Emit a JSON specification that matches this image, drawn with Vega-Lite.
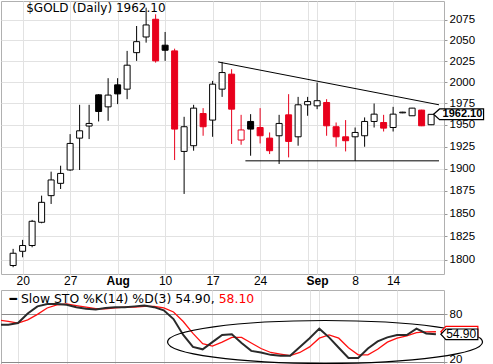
{
  "$schema": "https://vega.github.io/schema/vega-lite/v6.json",
  "padding": 0,
  "autosize": {"type": "pad"},
  "background": "white",
  "spacing": 2,
  "config": {
    "view": {"stroke": "#b0b0b0"},
    "font": "DejaVu Sans"
  },
  "datasets": {
    "ohlc": [
      {"d":"2020-07-17","i":0,"o":1793.8,"h":1811.6,"l":1792.0,"c":1806.9},
      {"d":"2020-07-20","i":1,"o":1809.0,"h":1821.3,"l":1802.6,"c":1815.2},
      {"d":"2020-07-21","i":2,"o":1815.2,"h":1843.0,"l":1813.3,"c":1841.5},
      {"d":"2020-07-22","i":3,"o":1840.4,"h":1869.7,"l":1839.3,"c":1862.3},
      {"d":"2020-07-23","i":4,"o":1869.7,"h":1896.5,"l":1860.5,"c":1887.2},
      {"d":"2020-07-24","i":5,"o":1883.4,"h":1903.2,"l":1877.1,"c":1894.5},
      {"d":"2020-07-27","i":6,"o":1898.4,"h":1939.2,"l":1897.5,"c":1928.5},
      {"d":"2020-07-28","i":7,"o":1934.6,"h":1973.2,"l":1898.4,"c":1943.0},
      {"d":"2020-07-29","i":8,"o":1948.5,"h":1973.2,"l":1933.5,"c":1951.5},
      {"d":"2020-07-30","i":9,"o":1984.9,"h":1985.7,"l":1953.8,"c":1965.4},
      {"d":"2020-07-31","i":10,"o":1970.8,"h":2004.6,"l":1954.6,"c":1984.6},
      {"d":"2020-08-03","i":11,"o":1996.7,"h":2004.6,"l":1974.0,"c":1986.0},
      {"d":"2020-08-04","i":12,"o":1991.6,"h":2037.3,"l":1979.8,"c":2020.1},
      {"d":"2020-08-05","i":13,"o":2035.2,"h":2067.6,"l":2025.3,"c":2048.5},
      {"d":"2020-08-06","i":14,"o":2054.2,"h":2090.2,"l":2047.3,"c":2068.9},
      {"d":"2020-08-07","i":15,"o":2075.9,"h":2082.0,"l":2023.2,"c":2025.3},
      {"d":"2020-08-10","i":16,"o":2044.2,"h":2060.3,"l":2025.3,"c":2038.1},
      {"d":"2020-08-11","i":17,"o":2037.3,"h":2040.0,"l":1909.6,"c":1945.0},
      {"d":"2020-08-12","i":18,"o":1919.4,"h":1959.2,"l":1871.6,"c":1947.7},
      {"d":"2020-08-13","i":19,"o":1925.9,"h":1973.2,"l":1920.2,"c":1969.3},
      {"d":"2020-08-14","i":20,"o":1963.0,"h":1969.3,"l":1937.3,"c":1947.7},
      {"d":"2020-08-17","i":21,"o":1955.4,"h":2001.4,"l":1936.1,"c":1997.5},
      {"d":"2020-08-18","i":22,"o":1991.6,"h":2024.0,"l":1982.5,"c":2011.3},
      {"d":"2020-08-19","i":23,"o":2009.4,"h":2015.3,"l":1927.9,"c":1968.1},
      {"d":"2020-08-20","i":24,"o":1932.4,"h":1961.5,"l":1927.0,"c":1944.0},
      {"d":"2020-08-21","i":25,"o":1953.8,"h":1962.3,"l":1914.5,"c":1945.0},
      {"d":"2020-08-24","i":26,"o":1946.8,"h":1969.3,"l":1928.5,"c":1937.3},
      {"d":"2020-08-25","i":27,"o":1934.6,"h":1941.1,"l":1916.4,"c":1920.2},
      {"d":"2020-08-26","i":28,"o":1937.3,"h":1961.5,"l":1905.1,"c":1951.5},
      {"d":"2020-08-27","i":29,"o":1961.5,"h":1985.7,"l":1912.6,"c":1930.8},
      {"d":"2020-08-28","i":30,"o":1936.1,"h":1982.5,"l":1925.9,"c":1973.2},
      {"d":"2020-08-31","i":31,"o":1973.2,"h":1982.5,"l":1960.4,"c":1977.0},
      {"d":"2020-09-01","i":32,"o":1972.0,"h":1999.4,"l":1968.1,"c":1978.0},
      {"d":"2020-09-02","i":33,"o":1975.9,"h":1979.8,"l":1937.3,"c":1948.8},
      {"d":"2020-09-03","i":34,"o":1947.7,"h":1952.6,"l":1924.7,"c":1936.1},
      {"d":"2020-09-04","i":35,"o":1936.1,"h":1955.4,"l":1919.4,"c":1931.6},
      {"d":"2020-09-08","i":36,"o":1936.1,"h":1946.8,"l":1908.7,"c":1941.1},
      {"d":"2020-09-09","i":37,"o":1937.3,"h":1958.5,"l":1924.7,"c":1953.8},
      {"d":"2020-09-10","i":38,"o":1953.8,"h":1974.7,"l":1946.8,"c":1962.3},
      {"d":"2020-09-11","i":39,"o":1952.6,"h":1961.5,"l":1942.2,"c":1946.1},
      {"d":"2020-09-14","i":40,"o":1946.8,"h":1970.8,"l":1942.2,"c":1962.3},
      {"d":"2020-09-15","i":41,"o":1963.8,"h":1965.0,"l":1963.4,"c":1964.6},
      {"d":"2020-09-16","i":42,"o":1960.4,"h":1969.6,"l":1960.2,"c":1969.3},
      {"d":"2020-09-17","i":43,"o":1967.0,"h":1967.4,"l":1948.4,"c":1948.8},
      {"d":"2020-09-18","i":44,"o":1950.0,"h":1962.4,"l":1949.6,"c":1962.1}
    ],
    "sto": [
      {"i":-1,"k":67,"d":73},{"i":0,"k":67,"d":71},{"i":1,"k":69,"d":69},{"i":2,"k":81,"d":73},
      {"i":3,"k":90,"d":80},{"i":4,"k":93,"d":88},{"i":5,"k":93,"d":92},{"i":6,"k":92,"d":93},
      {"i":7,"k":89,"d":91},{"i":8,"k":87,"d":89},{"i":9,"k":86,"d":87},{"i":10,"k":88,"d":87},
      {"i":11,"k":89,"d":88},{"i":12,"k":89,"d":89},{"i":13,"k":90,"d":89},{"i":14,"k":91,"d":90},
      {"i":15,"k":89,"d":90},{"i":16,"k":85,"d":88},{"i":17,"k":74,"d":83},{"i":18,"k":54,"d":71},
      {"i":19,"k":39,"d":56},{"i":20,"k":36,"d":43},{"i":21,"k":45,"d":40},{"i":22,"k":54,"d":45},
      {"i":23,"k":55,"d":51},{"i":24,"k":44,"d":51},{"i":25,"k":34,"d":44},{"i":26,"k":32,"d":37},
      {"i":27,"k":29,"d":32},{"i":28,"k":28,"d":30},{"i":29,"k":28,"d":28},{"i":30,"k":39,"d":32},
      {"i":31,"k":50,"d":39},{"i":32,"k":62,"d":50},{"i":33,"k":51,"d":54},{"i":34,"k":38,"d":50},
      {"i":35,"k":25,"d":38},{"i":36,"k":25,"d":29},{"i":37,"k":37,"d":29},{"i":38,"k":46,"d":36},
      {"i":39,"k":51,"d":45},{"i":40,"k":54,"d":50},{"i":41,"k":54,"d":53},{"i":42,"k":62,"d":57},
      {"i":43,"k":56,"d":58},{"i":44,"k":54.9,"d":58.1}
    ],
    "trend": [
      {"t":"resistance","i":21.57,"v":2024.0},{"t":"resistance","i":44.83,"v":1973.2},
      {"t":"support","i":24.45,"v":1908.7},{"t":"support","i":44.83,"v":1908.7}
    ]
  },
  "vconcat": [
    {
      "width": 443,
      "height": 273,
      "layer": [
        {
          "data": {"name": "ohlc"},
          "transform": [{"window": [{"op": "lag", "field": "c", "as": "pc"}], "sort": [{"field": "i", "order": "ascending"}]}],
          "mark": {"type": "rule", "strokeWidth": 1},
          "encoding": {
            "x": {"field": "i", "type": "quantitative",
              "scale": {"domain": [-0.75, 44.83], "nice": false, "zero": false},
              "axis": {"title": null, "values": [1,6,11,16,21,26,31,32,36,40],
                "labelExpr": "datum.value == 1 ? '20' : datum.value == 6 ? '27' : datum.value == 11 ? 'Aug' : datum.value == 16 ? '10' : datum.value == 21 ? '17' : datum.value == 26 ? '24' : datum.value == 32 ? 'Sep' : datum.value == 36 ? '8' : datum.value == 40 ? '14' : ''",
                "ticks": false, "tickSize": 0, "domain": false, "labelPadding": 1,
                "labelFont": "Liberation Sans", "labelFontSize": 12, "labelColor": "#000",
                "labelFontWeight": {"condition": {"test": "datum.value == 11 || datum.value == 32", "value": "bold"}, "value": "normal"},
                "labelOverlap": false, "labelFlush": false, "grid": true, "gridColor": "#e2e2e2"}},
            "y": {"field": "l", "type": "quantitative",
              "scale": {"type": "log", "domain": [1784.8, 2098.5], "nice": false, "zero": false},
              "axis": {"title": null, "orient": "right", "values": [1800,1825,1850,1875,1900,1925,1950,1975,2000,2025,2050,2075],
                "format": "d", "grid": true, "gridColor": "#e2e2e2", "domain": false, "tickSize": 3, "tickColor": "#999",
                "labelPadding": 2, "labelFont": "Liberation Sans", "labelFontSize": 11.5, "labelColor": "#000"}},
            "y2": {"field": "h"},
            "color": {"condition": {"test": "datum.pc != null && datum.c < datum.pc", "value": "#e8001c"}, "value": "#000"}
          }
        },
        {
          "data": {"name": "ohlc"},
          "transform": [{"window": [{"op": "lag", "field": "c", "as": "pc"}], "sort": [{"field": "i", "order": "ascending"}]}],
          "mark": {"type": "bar", "size": 6, "strokeWidth": 1},
          "encoding": {
            "x": {"field": "i", "type": "quantitative"},
            "y": {"field": "o", "type": "quantitative"},
            "y2": {"field": "c"},
            "fill": {"condition": [{"test": "datum.c >= datum.o", "value": "#ffffff"}, {"test": "datum.pc != null && datum.c < datum.pc", "value": "#e8001c"}], "value": "#000"},
            "stroke": {"condition": {"test": "datum.pc != null && datum.c < datum.pc", "value": "#e8001c"}, "value": "#000"}
          }
        },
        {
          "data": {"name": "trend"},
          "mark": {"type": "line", "color": "#000", "strokeWidth": 1, "clip": true},
          "encoding": {
            "x": {"field": "i", "type": "quantitative"},
            "y": {"field": "v", "type": "quantitative"},
            "detail": {"field": "t"}
          }
        },
        {
          "data": {"values": [{"label": "$GOLD (Daily) 1962.10"}]},
          "mark": {"type": "text", "align": "left", "baseline": "middle", "font": "DejaVu Sans", "fontSize": 12, "color": "#000", "clip": false},
          "encoding": {"x": {"datum": 1.38}, "y": {"datum": 2089.8}, "text": {"field": "label"}}
        },
        {
          "data": {"values": [{"last": 1962.1}]},
          "mark": {"type": "point", "shape": "M -1 0 L -0.76 -0.214 L 1 -0.214 L 1 0.214 L -0.76 0.214 Z", "size": 2500, "filled": true, "fill": "#fff", "stroke": "#000", "strokeWidth": 1.2, "opacity": 1, "clip": false},
          "encoding": {"x": {"datum": 46.89}, "y": {"field": "last", "type": "quantitative"}}
        },
        {
          "data": {"values": [{"last": 1962.1, "label": "1962.10"}]},
          "mark": {"type": "text", "align": "center", "baseline": "middle", "font": "Liberation Sans", "fontSize": 11, "fontWeight": "bold", "color": "#000", "clip": false},
          "encoding": {"x": {"datum": 47.3}, "y": {"field": "last", "type": "quantitative"}, "text": {"field": "label"}}
        }
      ]
    },
    {
      "width": 443,
      "height": 76,
      "layer": [
        {
          "data": {"name": "sto"},
          "mark": {"type": "line", "color": "#ff1010", "strokeWidth": 1.3, "clip": true},
          "encoding": {
            "x": {"field": "i", "type": "quantitative",
              "scale": {"domain": [-0.75, 44.83], "nice": false, "zero": false},
              "axis": {"title": null, "values": [1,6,11,16,21,26,31,32,36,40], "labels": false, "ticks": false, "domain": false, "grid": true, "gridColor": "#e2e2e2"}},
            "y": {"field": "d", "type": "quantitative",
              "scale": {"domain": [15, 110.6], "nice": false, "zero": false},
              "axis": {"title": null, "orient": "right", "values": [20, 50, 80], "grid": true, "gridColor": "#8a8a8a",
                "gridDash": {"condition": {"test": "datum.value == 50", "value": [7, 3, 2, 3]}, "value": []},
                "domain": false, "tickSize": 3, "tickColor": "#999", "labelPadding": 2,
                "labelFont": "Liberation Sans", "labelFontSize": 11.5, "labelColor": "#000",
                "labelBaseline": {"condition": {"test": "datum.value == 20", "value": "alphabetic"}, "value": "middle"}}}
          }
        },
        {
          "data": {"name": "sto"},
          "mark": {"type": "line", "color": "#2a2a2a", "strokeWidth": 2, "clip": true},
          "encoding": {
            "x": {"field": "i", "type": "quantitative"},
            "y": {"field": "k", "type": "quantitative"}
          }
        },
        {
          "data": {"values": [{"note": "ellipse"}]},
          "mark": {"type": "point", "shape": "M -1 0 A 1 0.1365 0 1 1 1 0 A 1 0.1365 0 1 1 -1 0 Z", "size": 99225, "filled": false, "stroke": "#000", "strokeWidth": 1.2, "opacity": 1, "clip": false},
          "encoding": {"x": {"datum": 32.59}, "y": {"datum": 45.2}}
        },
        {
          "data": {"values": [{"label": "━ Slow STO %K(14) %D(3) 54.90,"}]},
          "mark": {"type": "text", "align": "left", "baseline": "middle", "font": "DejaVu Sans", "fontSize": 12.4, "color": "#000", "clip": false},
          "encoding": {"x": {"datum": 0.135}, "y": {"datum": 99.2}, "text": {"field": "label"}}
        },
        {
          "data": {"values": [{"label": "58.10"}]},
          "mark": {"type": "text", "align": "left", "baseline": "middle", "font": "DejaVu Sans", "fontSize": 12.4, "color": "#ff0000", "clip": false},
          "encoding": {"x": {"datum": 21.65}, "y": {"datum": 99.2}, "text": {"field": "label"}}
        },
        {
          "data": {"values": [{"d": 58.1}]},
          "mark": {"type": "point", "shape": "M -1 0 L -0.73 -0.286 L 1 -0.286 L 1 0.286 L -0.73 0.286 Z", "size": 1369, "filled": true, "fill": "#fff", "stroke": "#ff0000", "strokeWidth": 1.2, "opacity": 1, "clip": false},
          "encoding": {"x": {"datum": 46.41}, "y": {"field": "d", "type": "quantitative"}}
        },
        {
          "data": {"values": [{"k": 54.9}]},
          "mark": {"type": "point", "shape": "M -1 0 L -0.73 -0.286 L 1 -0.286 L 1 0.286 L -0.73 0.286 Z", "size": 1369, "filled": true, "fill": "#fff", "stroke": "#000", "strokeWidth": 1.2, "opacity": 1, "clip": false},
          "encoding": {"x": {"datum": 46.41}, "y": {"field": "k", "type": "quantitative"}}
        },
        {
          "data": {"values": [{"k": 54.9, "label": "54.90"}]},
          "mark": {"type": "text", "align": "center", "baseline": "middle", "font": "Liberation Sans", "fontSize": 12, "color": "#000", "clip": false},
          "encoding": {"x": {"datum": 46.6}, "y": {"field": "k", "type": "quantitative"}, "text": {"field": "label"}}
        }
      ]
    }
  ]
}
